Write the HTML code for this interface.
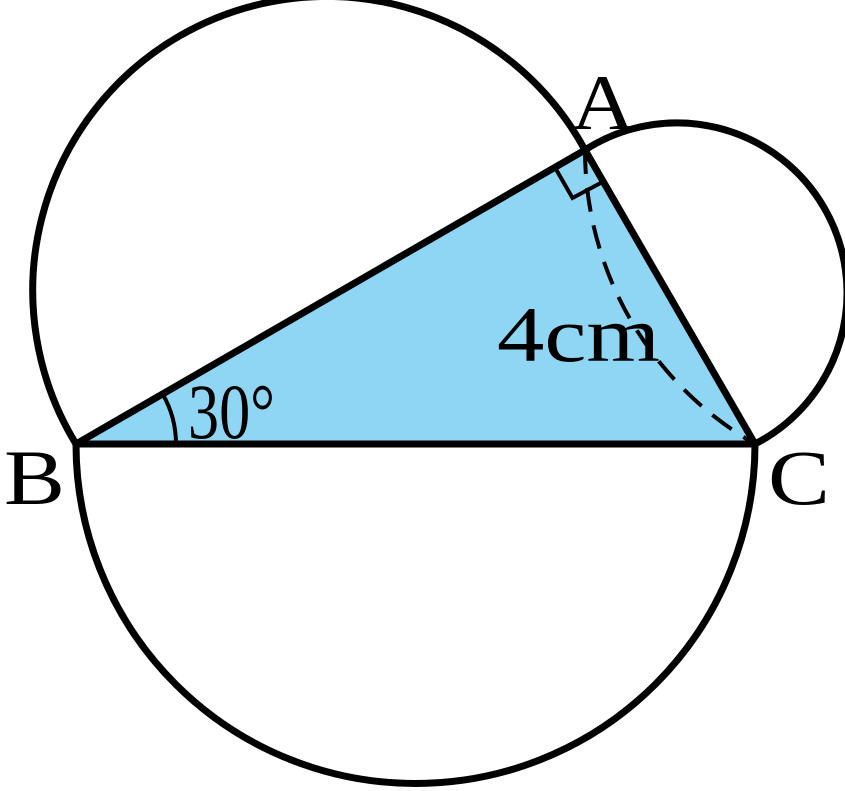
<!DOCTYPE html>
<html><head><style>body{margin:0;background:#fff}svg{display:block}</style></head><body>
<svg width="845" height="791" viewBox="0 0 845 791" xmlns="http://www.w3.org/2000/svg">
<polygon points="76,444 585,150 755,444" fill="#8fd6f5"/>
<g fill="none" stroke="#000" stroke-width="7">
<path d="M76,444 A339.5,339.5 0 0 0 755,444"/>
<path d="M76,444 A294,294 0 1 1 585,150"/>
<path d="M585,150 A170,170 0 1 1 755,444"/>
<path d="M585,150 A339,339 0 0 0 755,444" stroke-dasharray="24,14" stroke-width="4"/>
<polygon points="76,444 585,150 755,444" stroke-linejoin="round"/>
<polyline points="555,167.5 572.5,198 602.5,182" stroke-width="4"/>
<path d="M176,444 A100,100 0 0 0 162.6,394" stroke-width="4"/>
</g>
<g font-family="Liberation Serif, serif" font-size="78" fill="#000">
<text x="571" y="129" textLength="64" lengthAdjust="spacingAndGlyphs">A</text>
<text x="4" y="504" textLength="61" lengthAdjust="spacingAndGlyphs">B</text>
<text x="768" y="504" textLength="62" lengthAdjust="spacingAndGlyphs">C</text>
<text x="188" y="438" textLength="87" lengthAdjust="spacingAndGlyphs">30°</text>
<text x="497" y="361" textLength="163" lengthAdjust="spacingAndGlyphs">4cm</text>
</g>
</svg>
</body></html>
